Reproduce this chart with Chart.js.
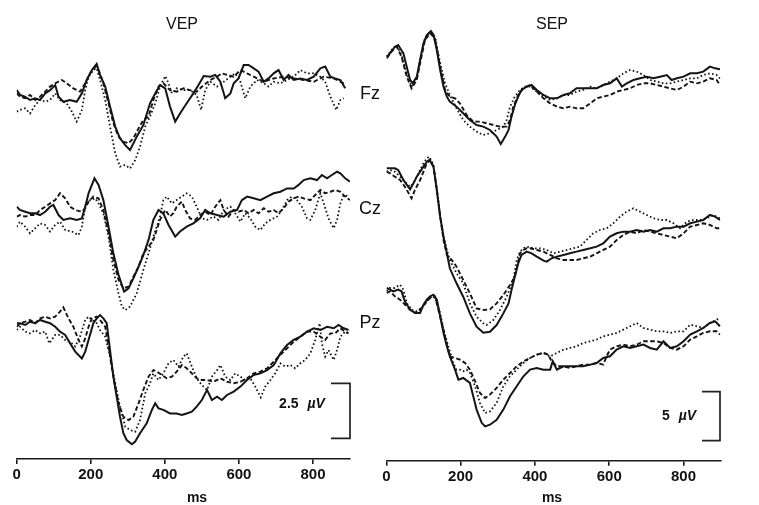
<!DOCTYPE html>
<html lang="en">
<head>
<meta charset="UTF-8">
<title>VEP / SEP</title>
<style>
  body { margin: 0; background: #fff; }
  #wrap { position: relative; width: 759px; height: 505px; overflow: hidden;
          font-family: "Liberation Sans", Arial, sans-serif; color: #111; }
  canvas { position: absolute; top: 0; }
  .lbl { position: absolute; transform: translate(-50%, -50%); white-space: nowrap; }
  .ttl { font-size: 16px; }
  .el { font-size: 18px; }
  .bar { font-size: 14px; font-weight: bold; word-spacing: 5px; }
  .bar i { font-style: italic; }
  .ms { font-size: 14px; font-weight: bold; }
</style>
</head>
<body>
<div id="wrap">
  <canvas id="vep" width="370" height="505" style="left:0"></canvas>
  <canvas id="sep" width="389" height="505" style="left:370px"></canvas>

  <div class="lbl ttl" style="left:182px;top:24px">VEP</div>
  <div class="lbl ttl" style="left:552px;top:24px">SEP</div>
  <div class="lbl el" style="left:370px;top:93px">Fz</div>
  <div class="lbl el" style="left:370px;top:208px">Cz</div>
  <div class="lbl el" style="left:370px;top:322px">Pz</div>
  <div class="lbl bar" style="left:302px;top:403px">2.5 <i>µV</i></div>
  <div class="lbl bar" style="left:679px;top:415px">5 <i>µV</i></div>
  <div class="lbl ms" style="left:197px;top:497px">ms</div>
  <div class="lbl ms" style="left:552px;top:497px">ms</div>
</div>

<script src="https://cdn.jsdelivr.net/npm/chart.js@4.4.1/dist/chart.umd.min.js"></script>
<script>
    // time ticks (ms)
    const TICKS = [0, 200, 400, 600, 800];

    // ---- VEP, [ms, µV] ----
    const vepFzSolid = [[0,0.45],[9,0.23],[22,0.15],[36,0],[50,0.08],[63,0],[77,0.3],[90,0.45],[104,0.68],[113,0.15],[126,-0.08],[144,0],[162,-0.08],[176,0.3],[189,0.91],[203,1.36],[216,1.64],[225,1.14],[239,0.61],[252,-0.3],[266,-1.21],[279,-1.74],[293,-2.05],[306,-2.27],[315,-1.97],[324,-1.67],[342,-1.14],[360,-0.15],[374,0.3],[387,0.68],[401,0.53],[414,-0.3],[428,-0.98],[441,-0.61],[459,-0.15],[477,0.3],[491,0.68],[505,1.09],[523,1.06],[536,1.14],[550,0.83],[563,0.08],[577,0.3],[586,0.76],[599,0.98],[613,1.59],[626,1.59],[640,1.44],[653,1.29],[667,0.83],[680,0.98],[694,1.21],[707,1.36],[721,0.91],[734,1.14],[748,0.91],[766,0.98],[784,0.91],[802,1.06],[820,1.44],[833,1.52],[847,1.06],[860,0.98],[874,0.91],[887,0.53]];
    const vepFzDash = [[0,0.3],[9,0.15],[23,0.08],[36,0.23],[50,0],[63,0.15],[77,0.38],[90,0.61],[104,0.76],[122,0.91],[135,0.76],[153,0.53],[171,0.38],[185,0.76],[198,1.21],[212,1.52],[221,1.36],[234,0.76],[248,-0.15],[261,-1.06],[275,-1.67],[288,-1.89],[302,-1.97],[315,-1.74],[329,-1.29],[342,-0.91],[356,-0.76],[369,0],[383,0.61],[396,0.76],[414,0.45],[432,0.38],[450,0.53],[468,0.45],[486,0.38],[505,0.68],[523,0.91],[541,1.06],[554,1.21],[568,1.14],[586,1.06],[604,1.36],[622,1.21],[640,1.06],[667,0.83],[694,0.98],[721,1.06],[748,0.98],[775,0.91],[802,0.83],[829,1.06],[856,0.98],[883,0.76]];
    const vepFzDot = [[0,-0.53],[9,-0.45],[23,-0.38],[36,-0.61],[50,-0.23],[63,0],[77,-0.08],[90,0],[104,0.3],[117,0],[135,-0.15],[149,-0.53],[162,-0.98],[176,-0.45],[185,0.45],[194,1.06],[207,1.36],[216,1.44],[225,0.91],[239,0],[252,-1.21],[266,-2.42],[279,-3.03],[293,-2.95],[306,-3.11],[320,-2.73],[333,-2.12],[347,-1.21],[360,-0.76],[374,-0.15],[387,0.61],[401,1.09],[410,0.76],[419,0.3],[432,0.53],[450,0.45],[468,0.45],[486,0.23],[498,-0.45],[509,0.45],[523,0.83],[541,0.61],[559,0.83],[577,1.06],[590,1.21],[604,0.83],[617,0.08],[631,0.61],[649,0.91],[667,0.76],[680,0.61],[694,0.83],[712,0.76],[730,0.91],[748,1.06],[766,1.36],[784,1.21],[802,1.21],[820,1.06],[833,0.83],[847,0.15],[863,-0.45],[874,0],[883,0.08]];

    const vepCzSolid = [[0,0.15],[9,0],[23,-0.08],[36,-0.15],[50,-0.15],[63,-0.23],[77,-0.08],[90,0.15],[99,0.23],[113,-0.23],[126,-0.45],[144,-0.38],[162,-0.45],[176,-0.38],[185,0.15],[194,0.76],[210,1.44],[221,1.14],[234,0.45],[248,-0.76],[261,-1.97],[275,-2.95],[290,-3.71],[302,-3.56],[315,-3.11],[329,-2.58],[342,-2.05],[356,-1.36],[369,-0.45],[383,0],[396,-0.15],[410,-0.68],[428,-1.21],[441,-0.98],[459,-0.76],[477,-0.61],[495,-0.38],[509,0],[523,-0.15],[541,-0.23],[559,-0.3],[577,-0.08],[595,0],[608,0.45],[622,0.61],[640,0.53],[658,0.45],[676,0.61],[694,0.76],[712,0.83],[730,0.98],[748,0.98],[761,1.14],[775,1.36],[793,1.44],[811,1.36],[824,1.59],[838,1.44],[851,1.59],[865,1.74],[874,1.67],[887,1.44],[900,1.29]];
    const vepCzDash = [[0,-0.3],[9,-0.23],[23,-0.3],[36,-0.23],[50,-0.23],[63,0],[77,0.15],[90,0.3],[104,0.45],[117,0.76],[131,0.53],[144,0.15],[158,0],[176,-0.08],[185,0.08],[194,0.38],[207,0.61],[221,0.53],[234,0],[248,-1.06],[261,-2.27],[275,-3.18],[288,-3.56],[302,-3.48],[315,-3.03],[329,-2.58],[342,-1.97],[356,-1.67],[369,-1.36],[378,-0.91],[387,-0.45],[401,0],[414,-0.3],[423,-0.15],[432,0.15],[446,0.38],[455,0],[468,-0.38],[482,-0.45],[495,-0.23],[509,-0.08],[523,-0.23],[536,0.15],[550,0.45],[559,0],[572,-0.3],[586,0],[599,-0.08],[613,0],[626,-0.15],[640,0],[653,-0.15],[667,0.08],[680,-0.08],[694,0],[707,-0.15],[721,0.08],[734,0.38],[748,0.53],[761,0.61],[775,0.53],[793,0.45],[806,0.68],[820,0.91],[833,0.76],[847,0.83],[860,0.91],[874,0.83],[887,0.61],[900,0.45]];
    const vepCzDot = [[0,-0.76],[9,-0.53],[23,-0.76],[36,-1.06],[50,-0.83],[63,-0.61],[77,-0.68],[90,-0.98],[104,-0.68],[117,-0.53],[131,-0.91],[149,-0.98],[167,-1.14],[176,-0.76],[185,0.15],[198,0.45],[212,0.53],[221,0.3],[234,-0.15],[248,-1.21],[261,-2.73],[275,-3.79],[284,-4.39],[293,-4.55],[306,-4.39],[315,-4.09],[324,-3.79],[342,-2.73],[356,-1.97],[369,-1.21],[387,-0.3],[396,0.45],[405,0.61],[419,0.3],[432,0.45],[446,0.61],[459,0.76],[473,0.61],[486,0.15],[500,-0.38],[514,-0.45],[532,-0.3],[545,-0.45],[559,0],[577,0.15],[590,-0.15],[604,-0.53],[617,-0.15],[631,-0.38],[644,-0.76],[658,-0.91],[671,-0.61],[685,-0.45],[703,-0.3],[716,0],[730,0.45],[743,0.61],[757,0.45],[770,0.15],[784,-0.38],[793,-0.45],[806,0],[820,0.76],[829,0.3],[842,-0.38],[856,-0.83],[865,-0.45],[874,0.3],[883,0.68],[896,0.61]];

    const vepPzSolid = [[0,0.08],[9,0.08],[23,0],[36,0.15],[50,0.08],[63,0.23],[77,0.15],[90,0.08],[104,-0.08],[117,-0.3],[131,-0.45],[144,-0.83],[158,-1.21],[176,-1.52],[185,-1.21],[194,-0.68],[207,0.08],[216,0.3],[225,0.45],[234,0.3],[243,0.08],[252,-1.14],[261,-2.35],[270,-3.26],[279,-4.17],[288,-4.92],[297,-5.23],[311,-5.42],[320,-5.3],[333,-4.92],[351,-4.47],[365,-3.86],[374,-3.56],[383,-3.79],[396,-3.86],[414,-4.02],[432,-4.02],[446,-4.09],[459,-4.02],[473,-3.94],[486,-3.71],[500,-3.41],[514,-2.95],[527,-3.41],[541,-3.26],[554,-3.41],[568,-3.18],[586,-3.03],[604,-2.8],[622,-2.5],[640,-2.27],[658,-2.2],[676,-2.05],[694,-1.82],[712,-1.29],[730,-0.91],[748,-0.68],[766,-0.53],[784,-0.3],[802,-0.15],[820,-0.23],[838,-0.08],[856,-0.15],[869,0],[883,-0.15],[896,-0.23]];
    const vepPzDash = [[0,-0.08],[9,0.08],[23,0.15],[36,0.23],[50,0.08],[63,0.3],[77,0.38],[90,0.3],[104,0.38],[117,0.61],[126,0.8],[140,0.3],[153,-0.08],[167,-0.68],[176,-0.98],[185,-0.61],[194,-0.08],[203,0.3],[216,0.38],[225,0.23],[239,-0.08],[248,-0.98],[261,-2.35],[275,-3.56],[288,-4.17],[302,-4.32],[315,-4.17],[329,-3.56],[342,-2.95],[356,-2.35],[369,-2.05],[378,-2.12],[392,-2.27],[405,-2.42],[419,-2.35],[432,-2.12],[446,-1.82],[459,-1.97],[473,-2.2],[486,-2.42],[500,-2.5],[514,-2.5],[532,-2.58],[550,-2.42],[568,-2.58],[586,-2.65],[604,-2.58],[622,-2.42],[640,-2.2],[658,-2.12],[676,-1.97],[694,-1.67],[712,-1.36],[730,-1.06],[748,-0.76],[766,-0.53],[784,-0.3],[802,-0.3],[820,-0.53],[833,-0.68],[847,-0.38],[860,-0.38],[874,-0.15],[887,-0.3],[896,-0.38]];
    const vepPzDot = [[0,-0.23],[9,-0.08],[23,-0.3],[36,-0.38],[50,-0.23],[63,-0.38],[77,-0.3],[88,-0.83],[104,-0.45],[117,-0.45],[131,-0.68],[144,-0.76],[158,-0.98],[171,-0.53],[185,0.23],[194,0.38],[203,0.23],[216,0.08],[225,-0.23],[239,-0.53],[252,-1.44],[266,-2.65],[279,-3.71],[293,-4.62],[306,-4.77],[320,-4.85],[333,-4.32],[347,-3.11],[360,-2.65],[369,-2.2],[383,-2.5],[396,-2.2],[410,-1.74],[423,-1.59],[437,-1.89],[450,-1.44],[459,-1.29],[473,-1.89],[486,-2.42],[500,-2.73],[514,-2.95],[527,-2.35],[541,-2.05],[550,-1.82],[563,-2.35],[577,-2.5],[590,-2.2],[604,-2.35],[617,-2.5],[631,-2.42],[644,-2.8],[659,-3.29],[671,-2.8],[685,-2.5],[698,-2.2],[712,-1.74],[725,-1.89],[739,-1.82],[752,-1.97],[766,-1.74],[779,-1.59],[793,-1.29],[806,-0.68],[818,0.08],[824,-0.83],[833,-1.44],[842,-1.14],[856,-1.59],[865,-1.14],[874,-0.53],[887,-0.3],[896,-0.38]];

    // ---- SEP, [ms, µV] ----
    const sepFzSolid = [[1,-0.17],[10,0.17],[23,0.85],[32,1.02],[46,0.17],[55,-1.19],[64,-2.55],[71,-2.89],[82,-2.21],[91,-0.51],[100,1.19],[109,2.04],[120,2.45],[127,2.04],[136,0.51],[145,-1.53],[154,-3.23],[163,-4.25],[171,-4.76],[189,-5.27],[207,-5.95],[225,-6.63],[243,-7.14],[261,-7.31],[279,-7.65],[297,-8.33],[308,-9.08],[320,-8.33],[329,-7.65],[337,-6.29],[346,-5.1],[355,-4.25],[364,-3.57],[378,-3.23],[391,-3.06],[405,-3.57],[423,-4.08],[441,-4.42],[459,-4.42],[477,-4.08],[494,-3.91],[512,-3.4],[530,-3.4],[549,-3.4],[566,-3.4],[584,-3.06],[602,-2.89],[620,-2.38],[634,-3.23],[647,-2.89],[665,-2.55],[683,-2.38],[701,-2.21],[719,-2.38],[737,-2.21],[755,-2.04],[768,-2.55],[782,-2.38],[800,-2.21],[818,-1.87],[836,-1.87],[853,-1.7],[871,-1.19],[885,-1.36],[898,-1.46]];
    const sepFzDash = [[1,-0.34],[14,0.34],[28,0.85],[41,-0.17],[55,-2.21],[68,-3.4],[82,-2.55],[91,-0.85],[104,1.53],[118,2.21],[131,1.7],[145,-1.19],[158,-3.57],[171,-4.25],[185,-4.42],[198,-4.93],[216,-6.12],[234,-6.8],[252,-6.8],[270,-6.97],[288,-7.14],[306,-7.31],[324,-7.31],[333,-6.63],[342,-5.27],[355,-4.08],[369,-3.4],[387,-3.06],[405,-3.74],[423,-4.42],[441,-4.93],[459,-5.27],[477,-5.44],[494,-5.27],[512,-5.44],[530,-5.44],[549,-4.93],[566,-4.42],[584,-4.25],[602,-4.08],[620,-3.74],[638,-3.57],[656,-3.4],[674,-3.06],[692,-2.89],[710,-2.89],[728,-3.06],[746,-3.23],[764,-3.4],[782,-3.57],[800,-3.23],[818,-2.72],[836,-2.89],[853,-2.72],[871,-2.38],[889,-2.55],[898,-3.06]];
    const sepFzDot = [[1,-0.17],[14,0.51],[28,1.02],[41,0],[55,-1.87],[68,-3.23],[82,-2.38],[91,-0.51],[104,1.7],[118,2.38],[131,1.87],[145,-0.85],[158,-2.89],[171,-4.08],[189,-5.44],[207,-6.63],[225,-7.31],[243,-7.82],[261,-8.16],[279,-7.99],[297,-7.65],[315,-7.31],[324,-6.63],[333,-5.27],[346,-4.25],[360,-3.57],[373,-3.23],[387,-3.23],[405,-3.74],[423,-4.25],[441,-4.59],[459,-4.42],[477,-4.08],[494,-4.08],[512,-3.74],[530,-3.57],[549,-3.23],[566,-3.4],[584,-3.06],[602,-2.72],[620,-2.38],[638,-1.87],[656,-1.53],[674,-1.7],[692,-2.04],[710,-2.55],[728,-2.72],[746,-2.89],[764,-2.89],[782,-2.72],[800,-2.55],[818,-2.38],[836,-2.38],[853,-2.04],[871,-1.87],[889,-2.04],[898,-2.38]];

    const sepCzSolid = [[1,0.17],[10,0.17],[23,0.17],[32,0],[46,-1.02],[64,-1.97],[73,-1.36],[82,-0.68],[91,-0.17],[100,0.34],[109,0.85],[116,1.02],[127,0.34],[136,-2.04],[145,-4.76],[154,-6.8],[163,-8.5],[171,-10.03],[189,-11.56],[207,-12.93],[225,-14.63],[243,-15.99],[261,-16.6],[279,-16.5],[297,-15.82],[315,-14.63],[329,-13.61],[337,-12.24],[346,-10.88],[355,-9.52],[364,-8.67],[378,-8.33],[391,-8.5],[405,-8.84],[423,-9.25],[432,-9.35],[445,-9.01],[459,-8.84],[477,-8.67],[494,-8.5],[512,-8.33],[530,-8.16],[549,-7.99],[566,-7.82],[584,-7.48],[602,-6.8],[620,-6.46],[638,-6.29],[656,-6.29],[674,-6.12],[692,-6.29],[710,-6.12],[728,-6.29],[746,-5.95],[764,-5.95],[782,-5.78],[800,-5.78],[818,-5.44],[836,-5.27],[853,-5.1],[871,-4.59],[885,-4.76],[898,-5.1]];
    const sepCzDash = [[1,-0.17],[10,-0.34],[23,-0.68],[37,-1.02],[50,-1.7],[68,-2.89],[77,-2.04],[91,-1.02],[100,-0.17],[109,0.68],[118,1.02],[127,0.34],[136,-2.04],[145,-4.76],[154,-7.14],[163,-8.67],[176,-9.18],[189,-9.86],[207,-11.22],[225,-12.59],[243,-14.12],[261,-14.29],[279,-14.22],[297,-13.61],[315,-12.76],[333,-11.73],[346,-10.88],[360,-8.5],[369,-8.16],[378,-7.99],[387,-7.99],[405,-8.16],[423,-8.33],[441,-8.67],[459,-9.01],[477,-9.18],[494,-9.18],[512,-9.18],[530,-9.01],[549,-8.84],[566,-8.5],[584,-8.16],[602,-7.82],[620,-7.14],[638,-6.63],[656,-6.29],[674,-6.46],[692,-6.12],[710,-6.29],[728,-6.46],[746,-6.63],[764,-6.8],[782,-6.97],[800,-6.46],[818,-5.78],[836,-5.61],[853,-5.44],[871,-5.61],[889,-5.95],[898,-5.95]];
    const sepCzDot = [[1,-0.17],[10,0],[23,-0.17],[37,-0.68],[50,-1.19],[64,-1.7],[73,-1.36],[82,-0.68],[91,0],[100,0.68],[109,1.19],[116,1.36],[127,0.51],[136,-2.04],[145,-4.76],[154,-6.8],[163,-8.16],[171,-9.18],[189,-10.54],[207,-11.56],[225,-13.61],[243,-14.97],[261,-15.65],[270,-15.82],[288,-15.31],[306,-14.29],[324,-12.93],[342,-11.22],[351,-9.18],[360,-8.33],[369,-7.99],[378,-7.82],[396,-7.99],[414,-7.99],[432,-8.16],[450,-8.5],[468,-8.33],[486,-8.16],[503,-7.99],[521,-7.82],[539,-7.14],[557,-6.46],[575,-6.12],[593,-5.95],[611,-5.44],[629,-4.76],[647,-4.25],[665,-3.91],[683,-4.25],[701,-4.59],[719,-4.93],[737,-5.1],[755,-5.1],[773,-5.44],[791,-5.95],[809,-5.27],[827,-5.1],[844,-5.1],[862,-4.93],[880,-4.59],[898,-4.93]];

    const sepPzSolid = [[1,0],[10,-0.17],[19,-0.34],[32,-0.17],[41,-0.34],[50,-1.36],[64,-2.21],[77,-2.55],[91,-2.55],[100,-1.7],[109,-1.19],[118,-0.85],[127,-0.68],[136,-1.19],[145,-2.89],[154,-4.59],[163,-5.95],[171,-6.97],[185,-8.33],[194,-9.35],[207,-9.18],[225,-9.69],[234,-11.05],[243,-12.41],[257,-13.78],[266,-14.12],[279,-13.95],[297,-13.44],[315,-12.41],[333,-11.05],[351,-10.03],[369,-9.01],[387,-8.33],[405,-8.16],[423,-8.33],[441,-8.33],[448,-7.48],[459,-8.33],[477,-7.99],[494,-7.99],[512,-7.99],[530,-7.99],[549,-7.82],[566,-7.65],[584,-7.14],[602,-6.97],[620,-6.29],[638,-5.95],[656,-6.12],[674,-5.95],[692,-5.78],[710,-6.12],[728,-6.29],[746,-5.44],[764,-6.12],[782,-5.95],[800,-5.44],[818,-4.76],[836,-4.42],[853,-4.08],[871,-3.57],[885,-3.4],[898,-3.91]];
    const sepPzDash = [[1,-0.51],[10,-0.34],[23,-0.85],[37,-1.19],[55,-1.87],[68,-2.38],[82,-2.55],[95,-2.04],[109,-1.36],[122,-0.85],[131,-0.85],[140,-2.21],[154,-4.25],[163,-5.78],[171,-6.97],[185,-7.14],[198,-7.31],[212,-7.65],[225,-8.33],[239,-9.52],[252,-10.71],[266,-11.22],[279,-10.88],[297,-10.2],[315,-9.35],[333,-8.67],[351,-7.99],[369,-7.48],[387,-7.14],[405,-6.8],[423,-6.63],[436,-6.8],[445,-7.48],[459,-7.99],[477,-7.99],[494,-8.16],[512,-7.99],[530,-7.82],[549,-7.82],[566,-7.65],[584,-7.82],[593,-6.97],[602,-6.29],[620,-5.95],[638,-5.78],[656,-5.95],[674,-5.78],[692,-5.44],[710,-5.44],[728,-5.44],[746,-5.61],[764,-6.12],[782,-6.29],[800,-5.95],[818,-5.27],[836,-4.93],[853,-4.59],[871,-4.42],[889,-4.42],[898,-4.76]];
    const sepPzDot = [[1,-0.34],[10,0],[23,0],[37,0.34],[46,-0.17],[55,-1.53],[68,-2.21],[82,-2.38],[95,-2.04],[109,-1.36],[122,-0.85],[131,-1.02],[145,-2.55],[154,-4.25],[167,-5.95],[180,-7.65],[189,-8.33],[198,-8.33],[207,-8.5],[216,-8.33],[225,-8.67],[239,-10.03],[252,-11.73],[266,-12.76],[279,-12.59],[297,-11.73],[315,-10.03],[333,-9.01],[351,-8.33],[369,-7.65],[387,-7.14],[405,-6.8],[423,-6.63],[441,-6.97],[459,-6.63],[477,-6.29],[494,-6.12],[512,-5.95],[530,-5.61],[549,-5.44],[566,-5.27],[584,-4.93],[602,-4.76],[620,-4.59],[638,-4.25],[656,-3.91],[674,-3.57],[692,-4.08],[710,-4.25],[728,-4.42],[746,-4.42],[764,-4.59],[782,-4.42],[800,-4.42],[818,-3.74],[836,-3.91],[853,-4.08],[871,-3.57],[889,-3.23],[898,-3.06]];

    // line styles for the three conditions
    const STYLES = {
        solid: {borderWidth: 2, borderDash: []},
        dash: {borderWidth: 1.9, borderDash: [4.5, 2.5]},
        dot: {borderWidth: 1.8, borderDash: [1.6, 2.4]}
    };

    // layout of each panel (pixels within its canvas)
    const PANELS = {
        vep: {
            padLeft: 16.7, padRight: 20, axisH: 46,
            pxPerUv: 22, base: [100, 210, 325], bottom: 459,
            bar: {x: 350, top: 383.3, uv: 2.5, arm: 19},
            series: [
                [vepFzSolid, vepFzDash, vepFzDot],
                [vepCzSolid, vepCzDash, vepCzDot],
                [vepPzSolid, vepPzDash, vepPzDot]
            ]
        },
        sep: {
            padLeft: 16.3, padRight: 38.3, axisH: 44.3,
            pxPerUv: 9.8, base: [55, 170, 288], bottom: 460.7,
            bar: {x: 350, top: 391.7, uv: 5, arm: 18},
            series: [
                [sepFzSolid, sepFzDash, sepFzDot],
                [sepCzSolid, sepCzDash, sepCzDot],
                [sepPzSolid, sepPzDash, sepPzDot]
            ]
        }
    };

    const scaleBar = {
        id: 'scaleBar',
        afterDraw(chart, args, opts) {
            const y = chart.scales.y;
            const len = y.getPixelForValue(0) - y.getPixelForValue(opts.uv);
            const c = chart.ctx;
            c.save();
            c.strokeStyle = '#222';
            c.lineWidth = 1.7;
            c.beginPath();
            c.moveTo(opts.x - opts.arm, opts.top);
            c.lineTo(opts.x, opts.top);
            c.lineTo(opts.x, opts.top + len);
            c.lineTo(opts.x - opts.arm, opts.top + len);
            c.stroke();
            c.restore();
        }
    };

    function makeChart(id, p) {
        const order = ['solid', 'dash', 'dot'];
        const datasets = [];
        p.series.forEach(function(group, i) {
            const offset = -(p.base[i] - p.base[0]) / p.pxPerUv;
            group.forEach(function(pts, j) {
                datasets.push(Object.assign({
                    data: pts.map(d => ({x: d[0], y: d[1] + offset})),
                    borderColor: '#141414',
                    pointRadius: 0,
                    tension: 0,
                    fill: false
                }, STYLES[order[j]]));
            });
        });

        return new Chart(document.getElementById(id), {
            type: 'line',
            data: {datasets: datasets},
            options: {
                responsive: false,
                animation: false,
                devicePixelRatio: 1,
                layout: {padding: {left: p.padLeft, right: p.padRight, top: 0, bottom: 0}},
                plugins: {
                    legend: {display: false},
                    tooltip: {enabled: false},
                    scaleBar: p.bar
                },
                scales: {
                    x: {
                        type: 'linear',
                        min: 0,
                        max: 900,
                        afterBuildTicks: s => { s.ticks = TICKS.map(v => ({value: v})); },
                        afterFit: s => { s.height = p.axisH; },
                        border: {display: true, color: '#1a1a1a', width: 1.6},
                        grid: {drawOnChartArea: false, drawTicks: true, tickLength: 5, color: '#1a1a1a', lineWidth: 1.6},
                        ticks: {
                            color: '#111',
                            padding: 2,
                            maxRotation: 0,
                            font: {family: '"Liberation Sans", Arial, sans-serif', size: 15, weight: 'bold'}
                        }
                    },
                    y: {
                        display: false,
                        min: -(p.bottom - p.base[0]) / p.pxPerUv,
                        max: p.base[0] / p.pxPerUv
                    }
                }
            },
            plugins: [scaleBar]
        });
    }

    makeChart('vep', PANELS.vep);
    makeChart('sep', PANELS.sep);
</script>
</body>
</html>
